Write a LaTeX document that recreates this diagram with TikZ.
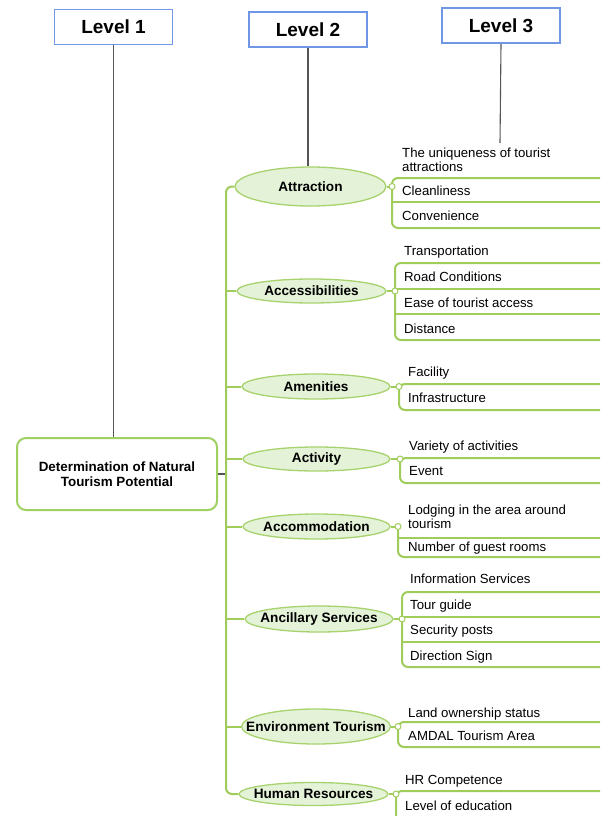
\documentclass[tikz,border=0pt]{standalone}
\usepackage{fontspec}
\setmainfont{Liberation Sans}
\usetikzlibrary{shapes.geometric,backgrounds}

\definecolor{linegreen}{HTML}{9FCC5B}
\definecolor{topicfill}{HTML}{E4F2D8}
\definecolor{topicborder}{HTML}{A7D26D}
\definecolor{rootgreen}{HTML}{9ED062}
\definecolor{lvlblue}{HTML}{7096E6}
\definecolor{guidegray}{HTML}{555555}

\tikzset{
  levelbox/.style={draw=lvlblue, line width=1.4pt, fill=white, minimum width=118pt,
    minimum height=35pt, inner sep=0pt, font=\fontsize{19}{22}\selectfont\bfseries},
  rootbox/.style={draw=rootgreen, line width=2pt, rounded corners=9pt, fill=white,
    minimum width=200pt, minimum height=72pt, align=center, inner sep=0pt,
    font=\fontsize{13.4}{15}\selectfont\bfseries},
  topic/.style={ellipse, draw=topicborder, line width=1.3pt, fill=topicfill, inner sep=0pt},
  topiclabel/.style={font=\fontsize{13.6}{15}\selectfont\bfseries},
  leaf/.style={anchor=west, inner sep=0pt, align=left,
    font=\fontsize{13.2}{14}\selectfont},
  branch/.style={draw=linegreen, line width=2pt, rounded corners=6pt},
  guide/.style={draw=guidegray, line width=1.1pt},
  knob/.style={circle, draw=linegreen, fill=white, line width=1pt, inner sep=0pt,
    minimum size=6pt}
}

\begin{document}
\begin{tikzpicture}[x=1pt, y=-1pt]
\useasboundingbox (0,0) rectangle (608,816);
\clip (0,0) rectangle (608,816);

% level headings
\node[levelbox] (L1) at (113.5,27) {Level 1};
\node[levelbox] (L2) at (308,29.5) {Level 2};
\node[levelbox] (L3) at (501,25.5) {Level 3};

% root topic
\node[rootbox] (root) at (117,474) {Determination of Natural\\Tourism Potential};

% main topics
\node[topic, minimum width=151pt, minimum height=39pt, label={[topiclabel]center:Attraction}] (t1) at (310.5,186.5) {};
\node[topic, minimum width=149pt, minimum height=24pt, label={[topiclabel]center:Accessibilities}] (t2) at (311.5,291) {};
\node[topic, minimum width=148pt, minimum height=25pt, label={[topiclabel]center:Amenities}] (t3) at (316,386.5) {};
\node[topic, minimum width=147pt, minimum height=24pt, label={[topiclabel]center:Activity}] (t4) at (316.5,459) {};
\node[topic, minimum width=147pt, minimum height=25pt, label={[topiclabel]center:Accommodation}] (t5) at (316.5,526.5) {};
\node[topic, minimum width=148pt, minimum height=26pt, label={[topiclabel]center:Ancillary Services}] (t6) at (319,619) {};
\node[topic, minimum width=149pt, minimum height=35pt, label={[topiclabel]center:Environment Tourism}] (t7) at (316,726.5) {};
\node[topic, minimum width=149pt, minimum height=23pt, label={[topiclabel]center:Human Resources}] (t8) at (313.5,794) {};

% junction knobs
\node[knob] (k1) at (392,186.5) {};
\node[knob] (k2) at (395,291) {};
\node[knob] (k3) at (399,386.5) {};
\node[knob] (k4) at (400,459) {};
\node[knob] (k5) at (398,526.5) {};
\node[knob] (k6) at (402,619) {};
\node[knob] (k7) at (398,726.5) {};
\node[knob] (k8) at (396,794) {};

% sub-topics
\node[leaf] (a1) at (402,160) {The uniqueness of tourist\\attractions};
\node[leaf] (a2) at (402,191) {Cleanliness};
\node[leaf] (a3) at (402,216) {Convenience};

\node[leaf] (b1) at (404,252) {Transportation};
\node[leaf] (b2) at (404,277) {Road Conditions};
\node[leaf] (b3) at (404,303) {Ease of tourist access};
\node[leaf] (b4) at (404,329) {Distance};

\node[leaf] (c1) at (408,373) {Facility};
\node[leaf] (c2) at (408,398) {Infrastructure};

\node[leaf] (d1) at (409,447) {Variety of activities};
\node[leaf] (d2) at (409,471) {Event};

\node[leaf] (e1) at (408,516.5) {Lodging in the area around\\tourism};
\node[leaf] (e2) at (408,548) {Number of guest rooms};

\node[leaf] (f1) at (410,579) {Information Services};
\node[leaf] (f2) at (410,606) {Tour guide};
\node[leaf] (f3) at (410,631) {Security posts};
\node[leaf] (f4) at (410,657) {Direction Sign};

\node[leaf] (g1) at (408,714) {Land ownership status};
\node[leaf] (g2) at (408,736) {AMDAL Tourism Area};

\node[leaf] (h1) at (405,781) {HR Competence};
\node[leaf] (h2) at (405,806) {Level of education};

\coordinate (trunkx) at (226,0);
\coordinate (L3end) at (500,143);

\begin{scope}[on background layer]
  % level guides
  \draw[guide] (L1.south) -- (L1.south |- root.north);
  \draw[guide] (L2.south) -- (L2.south |- t1.north);
  \draw[guide] (L3.south) -- (L3end);

  % root to trunk
  \draw[guide] (root.east) -- (root.east -| trunkx);

  % trunk and branches to the main topics
  \draw[branch] (t1.west) -- (t1.west -| trunkx) -- (t8.west -| trunkx) -- (t8.west);
  \foreach \t in {t2,t3,t4,t5,t6,t7}
    \draw[branch] (\t.west -| trunkx) -- (\t.west);

  % topic to knob
  \foreach \i in {1,...,8}
    \draw[branch] (t\i.east) -- (k\i);

  % underlined sub-topic brackets
  \draw[branch] (600,178) -- (392,178) -- (392,228) -- (600,228);
  \draw[branch] (392,202) -- (600,202);

  \draw[branch] (600,263) -- (395,263) -- (395,340) -- (600,340);
  \draw[branch] (395,289) -- (600,289);
  \draw[branch] (395,314) -- (600,314);

  \draw[branch] (600,384) -- (399,384) -- (399,410) -- (600,410);

  \draw[branch] (600,458) -- (400,458) -- (400,483) -- (600,483);

  \draw[branch] (k5) -- (398,557) -- (600,557);
  \draw[branch] (398,538) -- (600,538);

  \draw[branch] (600,592) -- (402,592) -- (402,667) -- (600,667);
  \draw[branch] (402,617) -- (600,617);
  \draw[branch] (402,642) -- (600,642);

  \draw[branch] (600,722) -- (398,722) -- (398,747) -- (600,747);

  \draw[branch] (600,791) -- (396,791) -- (396,830);
\end{scope}
\end{tikzpicture}
\end{document}
